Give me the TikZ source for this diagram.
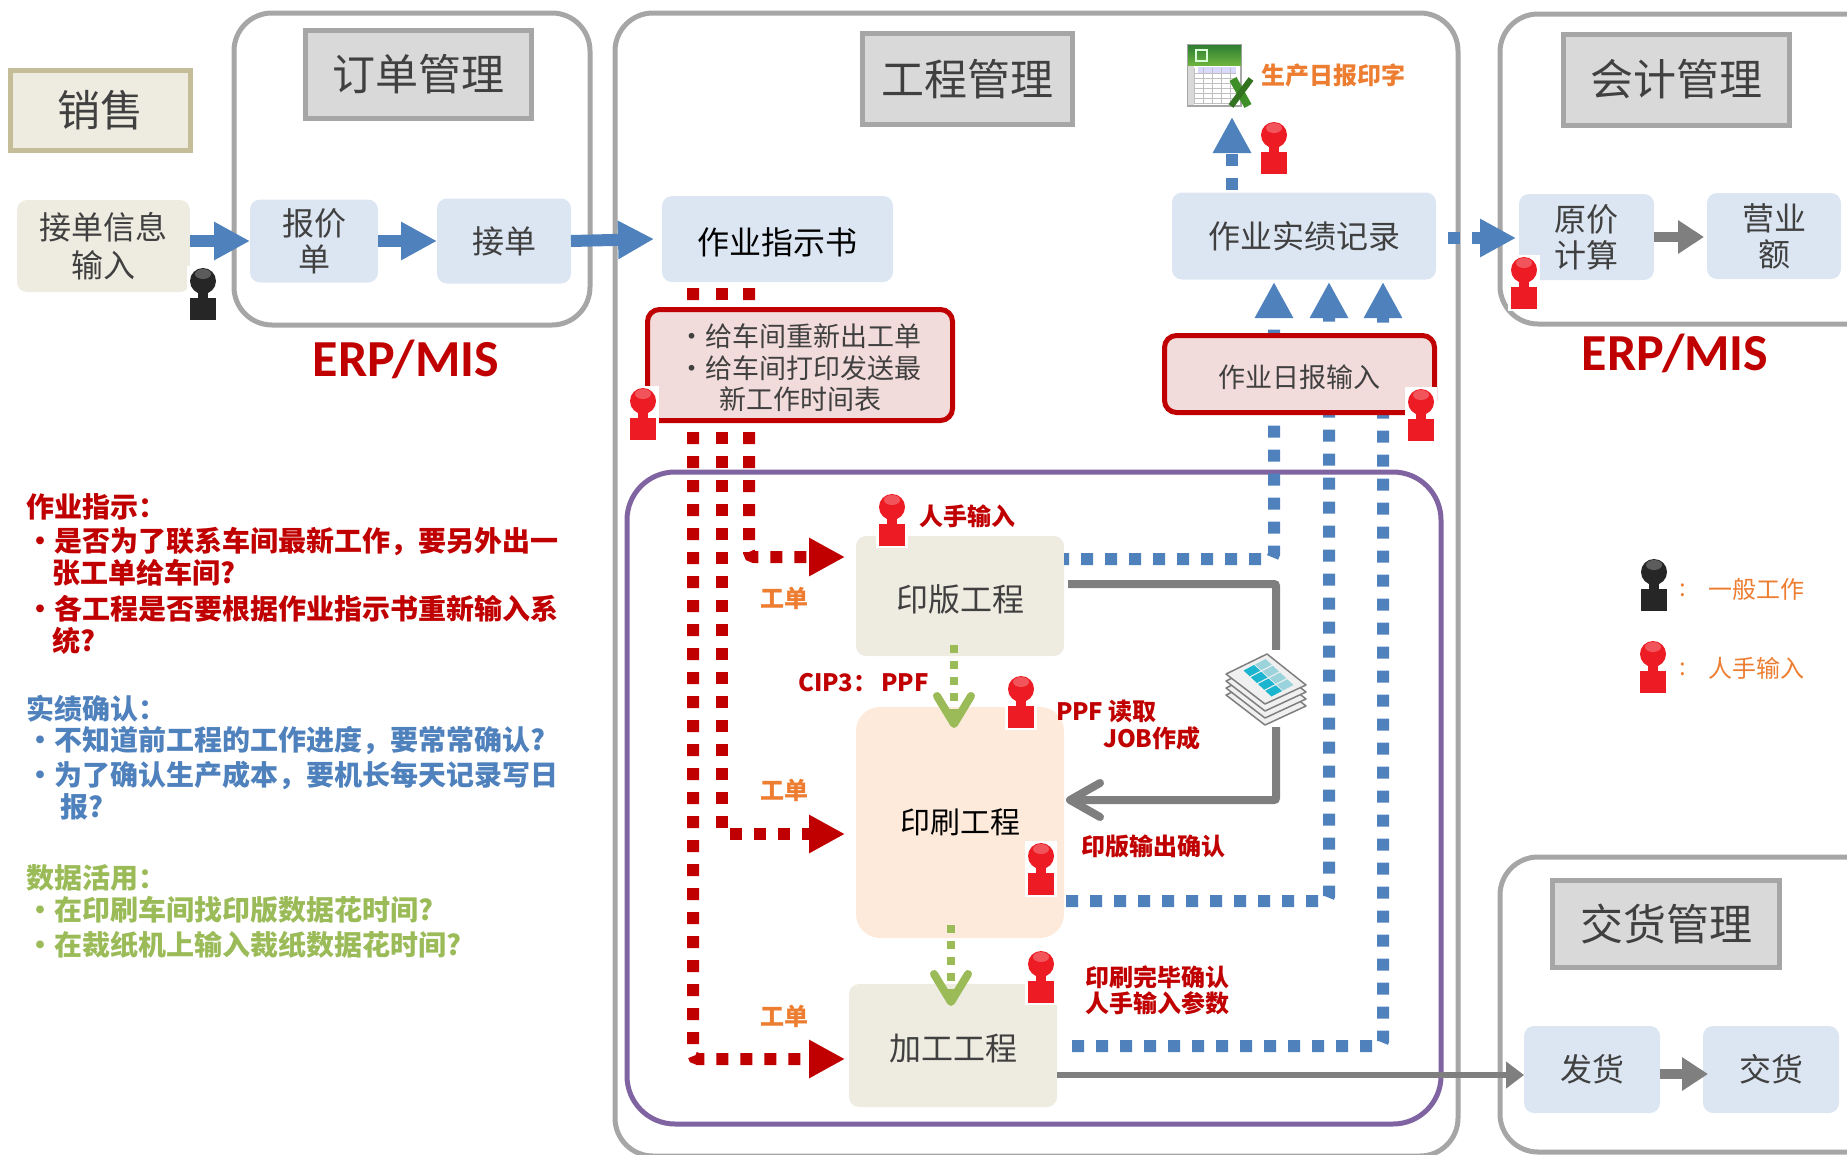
\documentclass[tikz,border=0pt]{standalone}
\usepackage{fontspec}
\setmainfont{Noto Sans CJK SC}
\newfontfamily\latinb{Carlito}
\usetikzlibrary{arrows.meta,calc}
\definecolor{panelgray}{HTML}{A6A6A6}
\definecolor{titlefill}{HTML}{D9D9D9}
\definecolor{tanfill}{HTML}{EEECE1}
\definecolor{tanedge}{HTML}{C4BD97}
\definecolor{bluefill}{HTML}{DCE6F2}
\definecolor{orangefill}{HTML}{FDEADA}
\definecolor{pinkfill}{HTML}{F2DCDB}
\definecolor{darkred}{HTML}{C00000}
\definecolor{midblue}{HTML}{4F81BD}
\definecolor{leaf}{HTML}{9BBB59}
\definecolor{flow}{HTML}{7F7F7F}
\definecolor{plum}{HTML}{8064A2}
\definecolor{orangetext}{HTML}{ED7D31}
\definecolor{ink}{HTML}{404040}
\definecolor{manred}{HTML}{ED1C24}
\definecolor{manblack}{HTML}{262626}
\definecolor{cellteal}{HTML}{1CB5D0}
\definecolor{celllight}{HTML}{9AD3DC}
\definecolor{xlgreen}{HTML}{3F8F29}
\definecolor{xltop}{HTML}{2E7D32}
\definecolor{xlbot}{HTML}{6CB33F}
\newcommand{\fs}[1]{\fontsize{#1}{#1}\selectfont}
\newcommand{\dn}{\rule{0pt}{\dimexpr .88em+5pt\relax}}
\tikzset{
  x=1pt,y=-1pt,
  every node/.style={inner sep=0pt,outer sep=0pt,text=ink},
  panel/.style={draw=panelgray,line width=5pt,rounded corners=38pt,fill=none},
  titlebox/.style={draw=panelgray,fill=titlefill,line width=5pt,font=\fs{43}},
  bbox/.style={fill=bluefill,rounded corners=10pt,font=\fs{32},align=center},
  tbox/.style={fill=tanfill,rounded corners=10pt,font=\fs{32},align=center},
  redbox/.style={draw=darkred,fill=pinkfill,line width=5pt,rounded corners=12pt,align=center},
  headT/.style={-{Triangle[length=36pt,width=36pt]}},
  blueflow/.style={draw=midblue,line width=12pt,headT},
  bluedot/.style={draw=midblue,line width=12pt,dash pattern=on 12pt off 12pt,rounded corners=5pt},
  reddot/.style={draw=darkred,line width=12pt,dash pattern=on 12pt off 12pt,rounded corners=5pt},
  grayflow/.style={draw=flow,line width=10pt,-{Triangle[length=26pt,width=32pt]}},
  greendot/.style={draw=leaf,line width=8pt,dash pattern=on 8pt off 8pt,-{Straight Barb[length=28pt,width=34pt,round]}},
  lbl/.style={font=\fs{24}\bfseries,text=darkred},
  org/.style={font=\fs{24}\bfseries,text=orangetext},
  legendt/.style={font=\fs{24},text=orangetext},
  note/.style={font=\fs{28}\bfseries,anchor=west},
  pics/person/.style={code={
    \fill[white] (-16,-28) rectangle (16,28);
    \fill[#1] (-5,-4) rectangle (5,6);
    \fill[#1] (0,-13) circle (13);
    \fill[white,opacity=.25] (0,-20) ellipse (8 and 5);
    \fill[#1] (-13,4) rectangle (13,26);
  }}
}
\begin{document}
\begin{tikzpicture}
\path[use as bounding box,clip] (0,0) rectangle (1847,1154);
% panels
\node[panel,minimum width=356pt,minimum height=312pt] (orderpanel) at (412,169) {};
\node[panel,minimum width=843pt,minimum height=1143pt] (engpanel) at (1036.5,584.5) {};
\node[panel,minimum width=400pt,minimum height=310pt] (acctpanel) at (1700,169) {};
\node[panel,minimum width=400pt,minimum height=295pt] (delpanel) at (1700,1004.5) {};
\node[draw=plum,line width=5pt,rounded corners=48pt,minimum width=814pt,minimum height=652pt] (purple) at (1034,798) {};
% titles
\node[draw=tanedge,fill=tanfill,line width=5pt,minimum width=180pt,minimum height=80pt,font=\fs{43}] (sales) at (100.5,110.5) {销售};
\node[titlebox,minimum width=226pt,minimum height=88pt] (t1) at (418,74.5) {订单管理};
\node[titlebox,minimum width=210pt,minimum height=91pt] (t2) at (967,79) {工程管理};
\node[titlebox,minimum width=226pt,minimum height=91pt] (t3) at (1676,79.5) {会计管理};
\node[titlebox,minimum width=227pt,minimum height=87pt] (t4) at (1666,924) {交货管理};
% process boxes
\node[tbox,minimum width=173pt,minimum height=92pt] (info) at (103.5,246) {接单信息\\[6pt]输入};
\node[bbox,minimum width=128pt,minimum height=83pt] (quote) at (314,241) {报价\\[4pt]单};
\node[bbox,minimum width=134pt,minimum height=85pt] (order) at (504,241) {接单};
\node[bbox,minimum width=231pt,minimum height=86pt,text=black] (work) at (777.5,239) {\dn 作业指示书};
\node[bbox,minimum width=264pt,minimum height=87pt] (record) at (1304,236) {作业实绩记录};
\node[bbox,minimum width=135pt,minimum height=86pt] (cost) at (1586.5,237) {原价\\[4pt]计算};
\node[bbox,minimum width=134pt,minimum height=86pt] (sales2) at (1774,236) {营业\\[4pt]额};
\node[bbox,minimum width=136pt,minimum height=87pt] (ship) at (1592,1069.5) {发货};
\node[bbox,minimum width=136pt,minimum height=87pt] (deliver) at (1771,1069.5) {交货};
\node[tbox,minimum width=208pt,minimum height=120pt] (plate) at (960,596) {\dn 印版工程};
\node[fill=orangefill,rounded corners=24pt,minimum width=208pt,minimum height=231pt,font=\fs{30},text=black] (press) at (960,822.5) {印刷工程};
\node[tbox,minimum width=208pt,minimum height=123pt] (finish) at (953,1045.5) {\dn 加工工程};
% coordinates for dotted routes
\coordinate (rA) at (693,288); \coordinate (rB) at (722,288); \coordinate (rC) at (749,288);
\coordinate (rAe) at (845,1059); \coordinate (rBe) at (845,834); \coordinate (rCe) at (845,557);
\coordinate (bA) at (1274,282); \coordinate (bB) at (1329,282); \coordinate (bC) at (1383,282);
\coordinate (bAs) at (1064,559); \coordinate (bBs) at (1064,901); \coordinate (bCs) at (1072,1046);
% red dotted
\draw[reddot,headT] (rC) -- (rC |- rCe) -- (rCe);
\draw[reddot,headT] (rB) -- (rB |- rBe) -- (rBe);
\draw[reddot,headT] (rA) -- (rA |- rAe) -- (rAe);
% blue dotted
\draw[bluedot,headT,dash phase=7pt] (bAs) -- (bA |- bAs) -- (bA);
\draw[bluedot,headT,dash phase=22pt] (bBs) -- (bB |- bBs) -- (bB);
\draw[bluedot,headT] (bCs) -- (bC |- bCs) -- (bC);
% red boxes
\node[redbox,minimum width=305pt,minimum height=111pt,font=\fontsize{27}{31.5}\selectfont] (reissue) at (800,365) {\dn ・给车间重新出工单\\・给车间打印发送最\\新工作时间表};
\node[redbox,minimum width=270pt,minimum height=77pt,font=\fs{27}] (daily) at (1299.5,374) {\dn 作业日报输入};
% solid flows
\draw[blueflow] (info.east |- quote.west) -- (quote.west);
\draw[blueflow] (quote.east) -- (order.west);
\draw[blueflow] (order.east) -- ([xshift=-8pt]work.west);
\coordinate (costin) at (1516,238);
\draw[bluedot,headT,dash phase=12pt] (record.east |- costin) -- (costin);
\coordinate (xltip) at (1232,117);
\draw[bluedot,headT,dash phase=21pt] (xltip |- record.north) -- (xltip);
\coordinate (salesin) at (1704,237);
\draw[grayflow] (cost.east) -- (salesin);
\coordinate (delin) at (1708,1074);
\draw[grayflow] (ship.east |- delin) -- (delin);
\coordinate (shipout) at (1057,1075);
\draw[draw=flow,line width=6pt,-{Triangle[length=18pt,width=26pt]}] (shipout) -- (ship.west |- shipout);
\coordinate (gs) at (1068,584); \coordinate (gc) at (1276,800); \coordinate (ge) at (1066,800);
\draw[draw=flow,line width=8pt,rounded corners=2pt,-{Straight Barb[length=30pt,width=34pt,round]}] (gs) -- (gc |- gs) -- (gc) -- (ge);
\coordinate (g1) at (954,645); \coordinate (g2) at (954,728);
\draw[greendot] (g1) -- (g2);
\coordinate (g3) at (951,925); \coordinate (g4) at (951,1006);
\draw[greendot] (g3) -- (g4);
% paper stack
\fill[white] (1220,650) rectangle (1310,727);
\foreach \d in {21,14,7,0}{
  \draw[draw=flow,fill=black!6,line width=1.5pt,line join=round] (1226,674+\d) -- (1267,654+\d) -- (1306,685+\d) -- (1265,704+\d) -- cycle;
}
\foreach \r in {0,1,2,3}{
  \fill[cellteal] ($(1243,670)+\r*(7.25,6.75)+(.5,.5)$) -- ++(10.5,-5.5) -- ++(6.25,5.75) -- ++(-10.5,5.5) -- cycle;
  \fill[celllight] ($(1254.5,664)+\r*(7.25,6.75)+(.5,.5)$) -- ++(10.5,-5.5) -- ++(6.25,5.75) -- ++(-10.5,5.5) -- cycle;
}
% excel icon
\fill[white] (1187,44) rectangle (1242,107);
\draw[draw=panelgray,line width=1.5pt,fill=white] (1188,45) rectangle (1241,106);
\shade[top color=xltop,bottom color=xlbot] (1188,45) rectangle (1241,65);
\draw[white!85!green,line width=2pt] (1196,50) rectangle (1207,61);
\fill[blue!15] (1198,67) rectangle (1236,74);
\fill[black!15] (1188,66) rectangle (1194,105);
\foreach \yy in {73,78,83,88,93,98,103}{\draw[black!25,line width=.7pt] (1194,\yy) -- (1236,\yy);}
\foreach \xx in {1194,1203,1212,1221,1230}{\draw[black!25,line width=.7pt] (\xx,68) -- (\xx,104);}
\draw[xlgreen,line width=8pt] (1233,79) -- (1248,106);
\draw[xlgreen!80!black,line width=6pt] (1251,79) -- (1231,106);
% people
\pic at (1274,148) {person=manred};
\pic at (1524,283) {person=manred};
\pic at (1421,415) {person=manred};
\pic at (643,414) {person=manred};
\pic at (892,520) {person=manred};
\pic at (1021,702) {person=manred};
\pic at (1041,869) {person=manred};
\pic at (1041,977) {person=manred};
\pic at (1653,667) {person=manred};
\pic at (203,294) {person=manblack};
\pic at (1654,585) {person=manblack};
% ERP labels
\node[font=\latinb\fs{52}\bfseries,text=darkred] (erp1) at (406,359) {ERP/MIS};
\node[font=\latinb\fs{52}\bfseries,text=darkred] (erp2) at (1675,353) {ERP/MIS};
% small labels
\node[org,anchor=west] (print) at (1261,75) {生产日报印字};
\node[lbl,anchor=west] (l1) at (919,516) {人手输入};
\node[org] (o1) at (784,598) {工单};
\node[org] (o2) at (784,790) {工单};
\node[org] (o3) at (784,1016) {工单};
\node[lbl,anchor=west] (l2) at (798,683) {CIP3：\,PPF};
\node[lbl,anchor=west] (l3) at (1056,711) {PPF 读取};
\node[lbl,anchor=west] (l4) at (1103,738) {JOB作成};
\node[lbl,anchor=west] (l5) at (1081,846) {印版输出确认};
\node[lbl,anchor=west] (l6) at (1085,977) {印刷完毕确认};
\node[lbl,anchor=west] (l7) at (1085,1003) {人手输入参数};
% legend
\node[legendt] (lg1) at (1683,590) {:};
\node[legendt,anchor=west] (lg2) at (1708,589) {一般工作};
\node[legendt] (lg3) at (1683,669) {:};
\node[legendt,anchor=west] (lg4) at (1708,668) {人手输入};
% left notes
\begin{scope}[every node/.append style={text=darkred}]
\node[note] (n1) at (26,507) {作业指示：};
\node[note] (n2) at (26,542) {・是否为了联系车间最新工作，要另外出一};
\node[note] (n3) at (52,573) {张工单给车间?};
\node[note] (n4) at (26,609) {・各工程是否要根据作业指示书重新输入系};
\node[note] (n5) at (52,641) {统?};
\end{scope}
\begin{scope}[every node/.append style={text=midblue}]
\node[note] (n6) at (26,709) {实绩确认：};
\node[note] (n7) at (26,741) {・不知道前工程的工作进度，要常常确认?};
\node[note] (n8) at (26,775) {・为了确认生产成本，要机长每天记录写日};
\node[note] (n9) at (60,807) {报?};
\end{scope}
\begin{scope}[every node/.append style={text=leaf}]
\node[note] (n10) at (26,878) {数据活用：};
\node[note] (n11) at (26,910) {・在印刷车间找印版数据花时间?};
\node[note] (n12) at (26,945) {・在裁纸机上输入裁纸数据花时间?};
\end{scope}
\end{tikzpicture}
\end{document}
